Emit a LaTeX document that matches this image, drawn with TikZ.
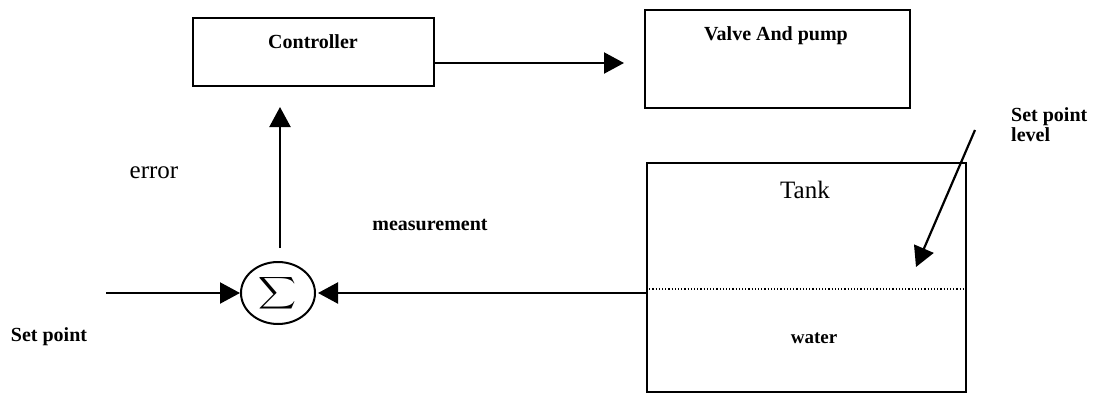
\documentclass[tikz,border=0pt]{standalone}
\usepackage{fontspec}
\usepackage{graphicx}
\setmainfont{Liberation Serif}
\usetikzlibrary{arrows.meta,shapes.geometric}
\begin{document}
\begin{tikzpicture}[x=1pt,y=-1pt,
  blk/.style={draw,line width=2pt,inner sep=0pt,rectangle},
  lbl/.style={font=\fontsize{20}{22}\selectfont\bfseries,inner sep=0pt},
  big/.style={font=\fontsize{25}{28}\selectfont,inner sep=0pt},
  arr/.style={line width=2.2pt,-{Triangle[length=20pt,width=21pt]}}]
\useasboundingbox (0,0) rectangle (1093,394);
% blocks
\node[blk,minimum width=241pt,minimum height=68pt] (ctrl) at (313.5,52) {};
\node[lbl] (ctrlt) at (313,42) {Controller};
\node[blk,minimum width=265pt,minimum height=98pt] (valve) at (777.5,59) {};
\node[lbl] (valvet) at (776,36) {Valve And pump};
\node[blk,minimum width=319pt,minimum height=229pt] (tank) at (806.5,277.5) {};
\node[big] (tankt) at (805,190) {Tank};
\node[lbl,font=\fontsize{19}{22}\selectfont\bfseries] (watert) at (814,338) {water};
\coordinate (lvlL) at (tank.west |- 0,289);
\coordinate (lvlR) at (tank.east |- 0,289);
\draw[line width=1.2pt,dotted] (lvlL) -- (lvlR);
% summing junction
\node[draw,ellipse,line width=2pt,minimum width=74pt,minimum height=62pt,inner sep=0pt] (sum) at (278,293) {\resizebox*{38pt}{36pt}{$\displaystyle\sum$}};
% labels
\node[big] (err) at (154,173) {error};
\node[lbl] (meas) at (430,225) {measurement};
\node[lbl] (sp) at (49,337) {Set point};
\node[lbl,align=left,anchor=north west,font=\fontsize{20}{20}\selectfont\bfseries] (spl) at (1011,107) {Set point\\level};
% connectors
\coordinate (vtip) at (624,63);
\draw[arr] (ctrl.east |- vtip) -- (vtip);
\coordinate (upbot) at (280,248);
\coordinate (uptip) at (280,107);
\draw[arr] (upbot) -- (uptip);
\coordinate (spin) at (106,293);
\draw[arr] (spin) -- (sum.west);
\coordinate (mtip) at (318,293);
\draw[arr] (tank.west |- mtip) -- (mtip);
\coordinate (lvltop) at (975,130);
\coordinate (lvltip) at (916,267);
\draw[arr] (lvltop) -- (lvltip);
\end{tikzpicture}
\end{document}
